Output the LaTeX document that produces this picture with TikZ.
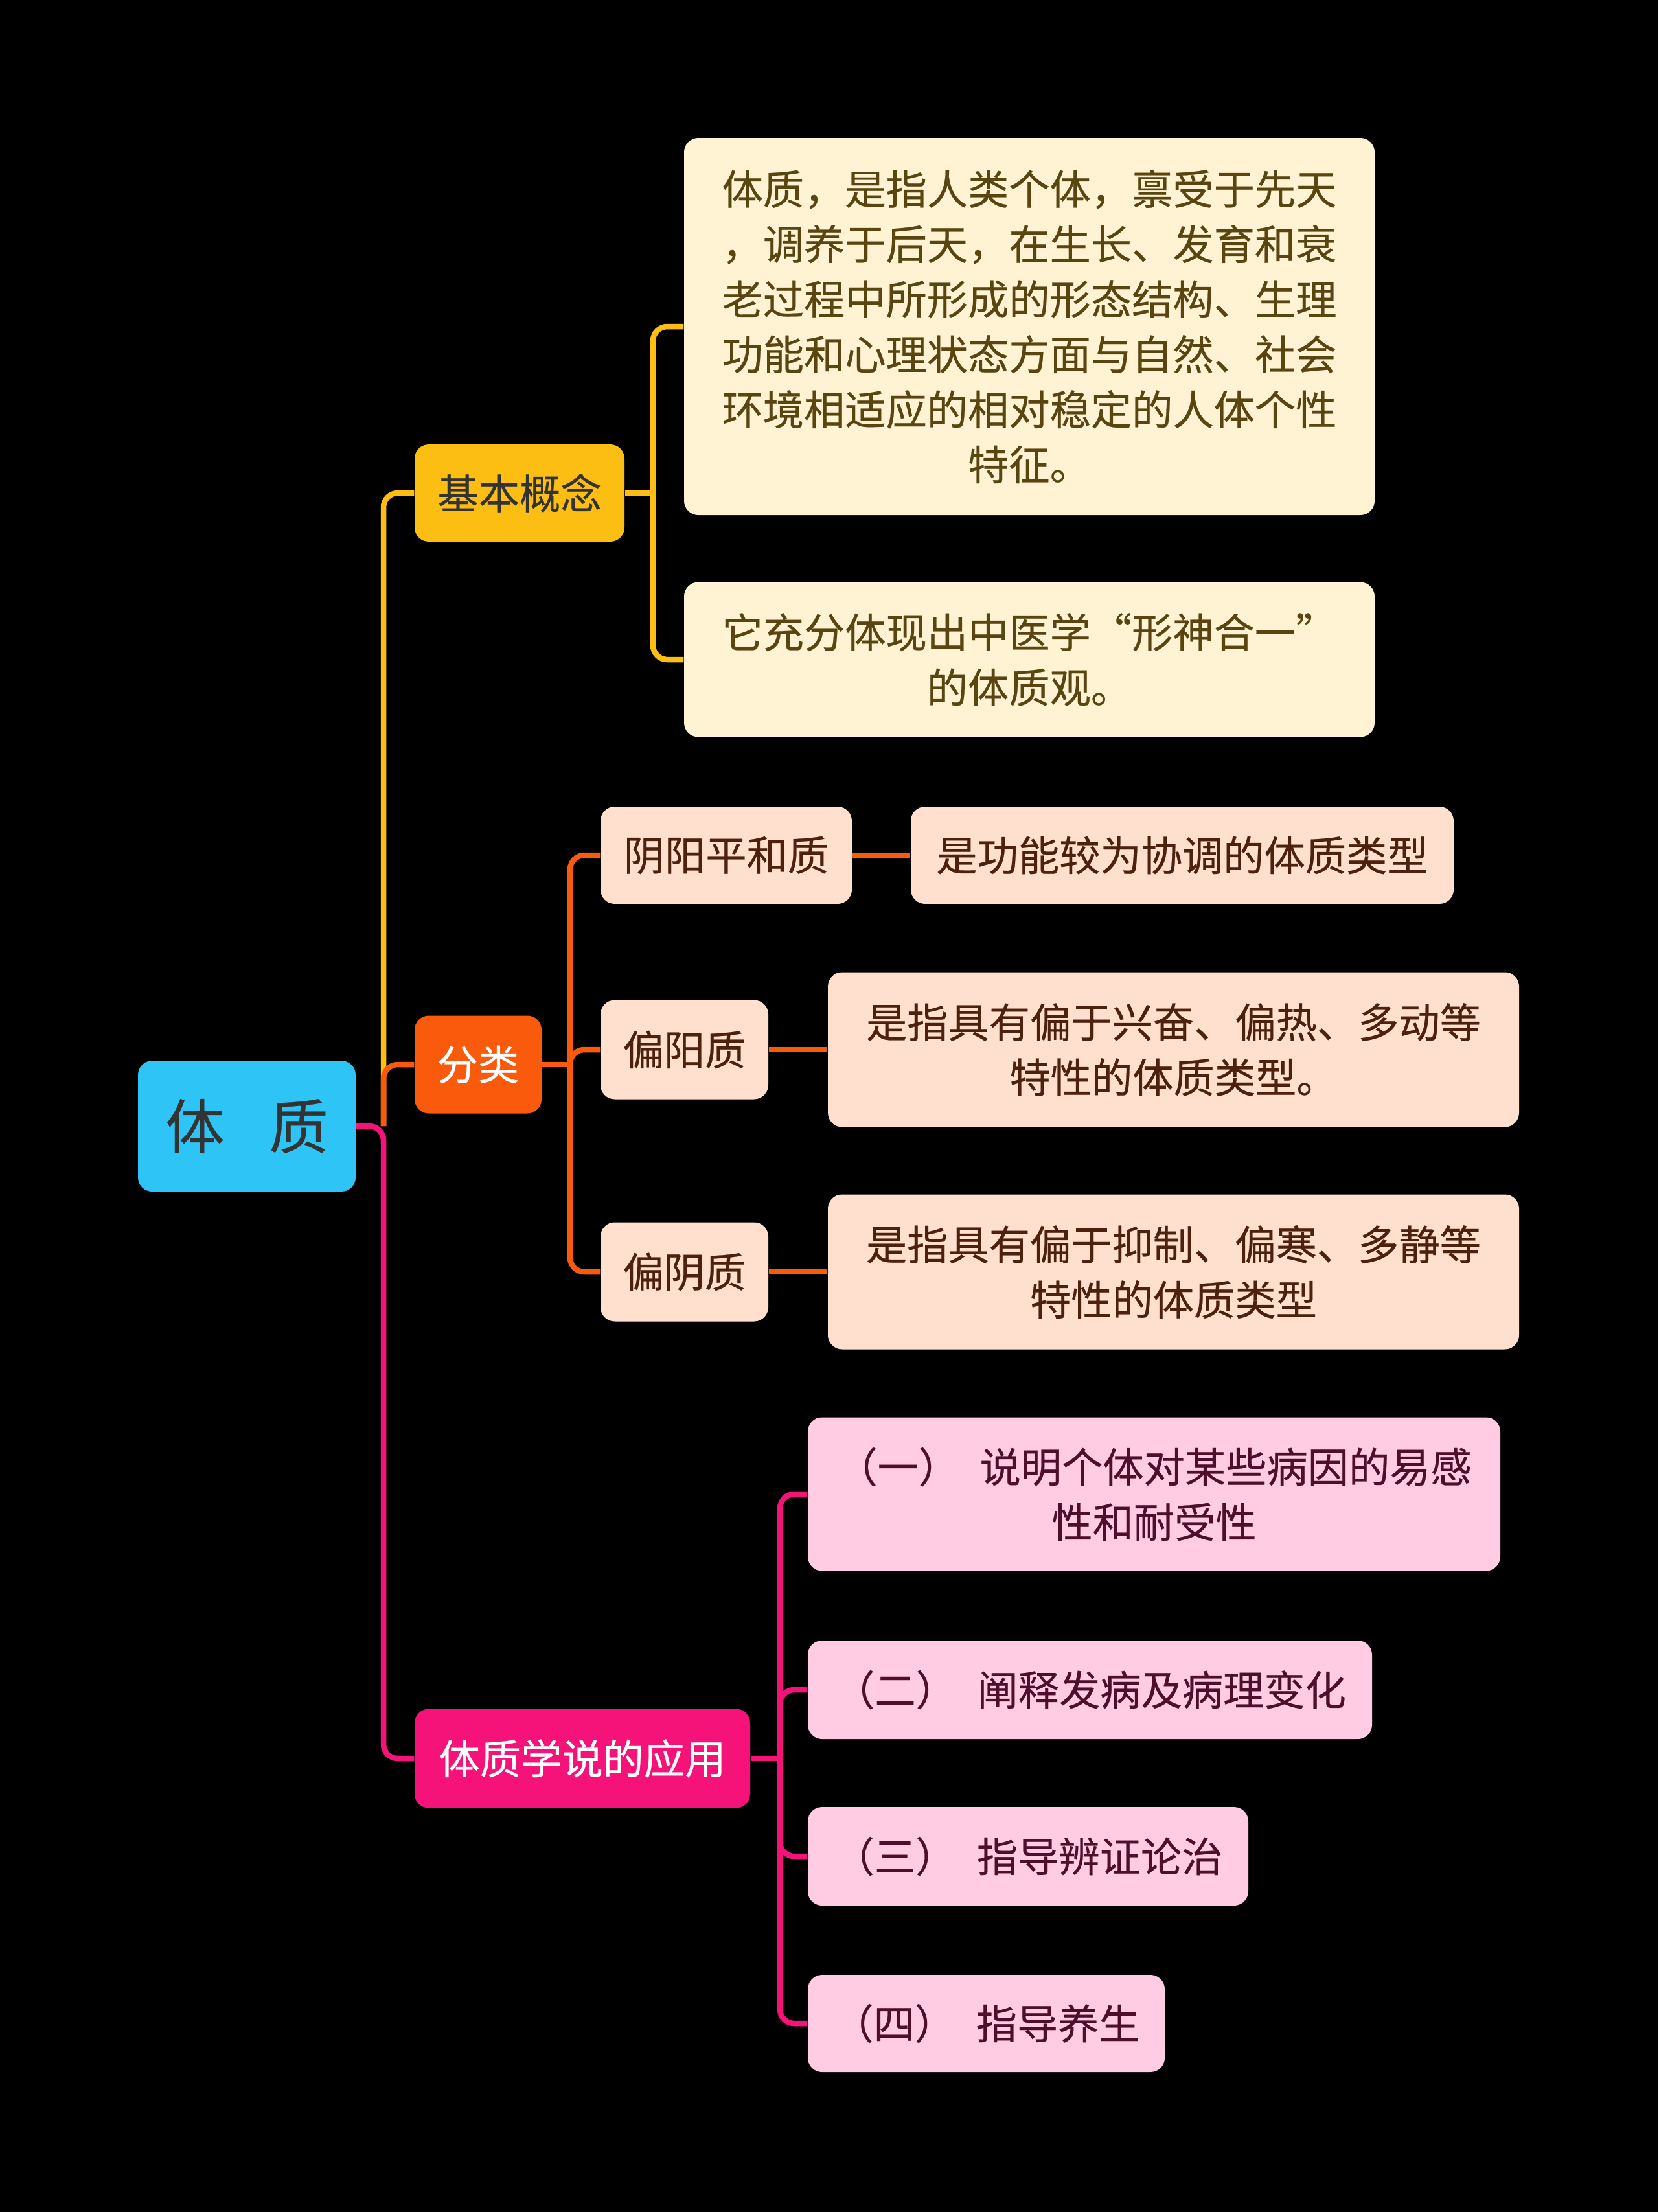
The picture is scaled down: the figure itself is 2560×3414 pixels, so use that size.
\documentclass[tikz,border=0pt]{standalone}
\usepackage{fontspec}
\setmainfont{Noto Sans CJK SC}[FakeBold=0.4]
\usepackage{xcolor}

\definecolor{rootblue}{HTML}{2EC5F6}
\definecolor{amber}{HTML}{FDBE14}
\definecolor{tangerine}{HTML}{F95A0B}
\definecolor{magenta}{HTML}{F5137A}
\definecolor{cream}{HTML}{FFF3D3}
\definecolor{peach}{HTML}{FFDFCE}
\definecolor{blush}{HTML}{FFCCE3}
\definecolor{creamtext}{HTML}{5A4410}
\definecolor{peachtext}{HTML}{4E200E}
\definecolor{blushtext}{HTML}{4E0E2C}

\begin{document}
\begin{tikzpicture}[x=0.1mm,y=-0.1mm,
	box/.style={rounded corners=2.2mm, align=center, inner sep=0pt,
		font=\fontsize{18}{24.2}\selectfont},
	lvlone/.style={box, text=#1},
	ylink/.style={amber, line width=0.85mm, rounded corners=2.2mm},
	olink/.style={tangerine, line width=0.85mm, rounded corners=2.2mm},
	plink/.style={magenta, line width=0.85mm, rounded corners=2.2mm}]
	\fill[black] (0,0) rectangle (2560,3414);
	% root and first level
	\node[box, fill=rootblue, text=black!80, minimum width=33.6mm, minimum height=20.2mm,
		font=\fontsize{26}{30}\selectfont] (root) at (381,1738) {体\hspace{0.75em}质};
	\node[lvlone=black!80, fill=amber, minimum width=32.4mm, minimum height=15mm] (gainian) at (802,761) {基本概念};
	\node[lvlone=white, fill=tangerine, minimum width=19.6mm, minimum height=15.1mm] (fenlei) at (738,1643) {分类};
	\node[lvlone=white, fill=magenta, minimum width=51.8mm, minimum height=15.3mm] (yingyong) at (899,2714) {体质学说的应用};
	% 基本概念
	\node[box, fill=cream, text=creamtext, minimum width=106.6mm, minimum height=58.2mm] (def1) at (1589,504)
		{体质，是指人类个体，禀受于先天\\，调养于后天，在生长、发育和衰\\老过程中所形成的形态结构、生理\\功能和心理状态方面与自然、社会\\环境相适应的相对稳定的人体个性\\特征。};
	\node[box, fill=cream, text=creamtext, minimum width=106.6mm, minimum height=23.9mm] (def2) at (1589,1018)
		{它充分体现出中医学“形神合一”\\的体质观。};
	% 分类
	\node[box, fill=peach, text=peachtext, minimum width=38.8mm, minimum height=15mm] (pinghe) at (1121,1320) {阴阳平和质};
	\node[box, fill=peach, text=peachtext, minimum width=25.9mm, minimum height=15.3mm] (pianyang) at (1056.5,1620) {偏阳质};
	\node[box, fill=peach, text=peachtext, minimum width=25.9mm, minimum height=15.3mm] (pianyin) at (1056.5,1963) {偏阴质};
	\node[box, fill=peach, text=peachtext, minimum width=83.8mm, minimum height=15mm] (pinghed) at (1825,1320) {是功能较为协调的体质类型};
	\node[box, fill=peach, text=peachtext, minimum width=106.7mm, minimum height=23.9mm] (pianyangd) at (1811.5,1620)
		{是指具有偏于兴奋、偏热、多动等\\特性的体质类型。};
	\node[box, fill=peach, text=peachtext, minimum width=106.7mm, minimum height=23.9mm] (pianyind) at (1811.5,1963)
		{是指具有偏于抑制、偏寒、多静等\\特性的体质类型};
	% 应用
	\node[box, fill=blush, text=blushtext, minimum width=106.9mm, minimum height=23.7mm] (yy1) at (1781.5,2306)
		{（一）\hspace{0.5em}说明个体对某些病因的易感\\性和耐受性};
	\node[box, fill=blush, text=blushtext, minimum width=87.1mm, minimum height=15.2mm] (yy2) at (1682.5,2608)
		{（二）\hspace{0.5em}阐释发病及病理变化};
	\node[box, fill=blush, text=blushtext, minimum width=68mm, minimum height=15.2mm] (yy3) at (1587,2865)
		{（三）\hspace{0.5em}指导辨证论治};
	\node[box, fill=blush, text=blushtext, minimum width=55.1mm, minimum height=15mm] (yy4) at (1522.5,3123)
		{（四）\hspace{0.5em}指导养生};
	% buses
	\coordinate (trunk) at (592,1738);
	\coordinate (gbus) at (1008,761);
	\coordinate (fbus) at (880,1643);
	\coordinate (ybus) at (1204,2714);
	% connectors
	\draw[ylink] (trunk) |- (gainian.west);
	\draw[olink] (trunk) |- (fenlei.west);
	\draw[plink] (root.east) -- (trunk) |- (yingyong.west);
	\draw[ylink] (gainian.east) -- (gbus);
	\draw[ylink] (gbus) |- (def1.west);
	\draw[ylink] (gbus) |- (def2.west);
	\draw[olink] (fenlei.east) -- (fbus);
	\draw[olink] (fbus) |- (pinghe.west);
	\draw[olink] (fbus) |- (pianyang.west);
	\draw[olink] (fbus) |- (pianyin.west);
	\draw[olink] (pinghe.east) -- (pinghed.west);
	\draw[olink] (pianyang.east) -- (pianyangd.west);
	\draw[olink] (pianyin.east) -- (pianyind.west);
	\draw[plink] (yingyong.east) -- (ybus);
	\foreach \n in {yy1,yy2,yy3,yy4}
		\draw[plink] (ybus) |- (\n.west);
\end{tikzpicture}
\end{document}
